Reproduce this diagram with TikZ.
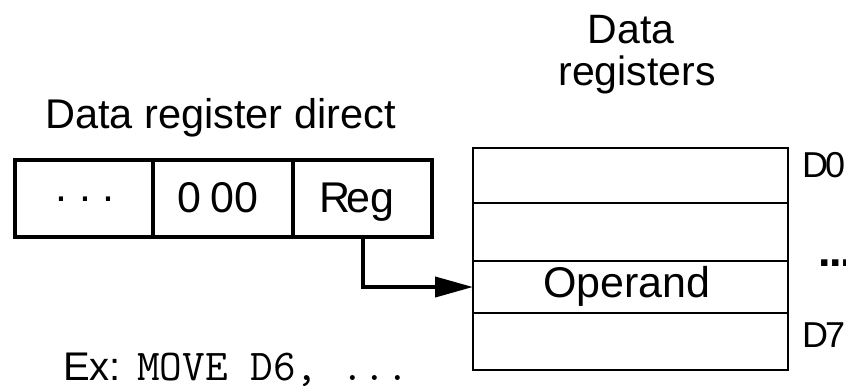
\documentclass[tikz,border=0pt]{standalone}
\usepackage{fontspec}
\setmainfont{Liberation Sans}
\usetikzlibrary{arrows.meta}
\begin{document}
\begin{tikzpicture}[x=1pt,y=-1pt,
  cell/.style={draw, line width=4pt, inner sep=0pt, outer sep=0pt, minimum height=77pt},
  regrow/.style={draw, line width=2pt, inner sep=0pt, outer sep=0pt, minimum width=315pt},
  big/.style={inner sep=0pt, font=\fontsize{43}{45}\selectfont},
  lbl/.style={inner sep=0pt, font=\fontsize{36}{38}\selectfont},
  link/.style={line width=4pt, -{Triangle[length=38pt,width=20pt]}}]
\useasboundingbox (0,0) rectangle (846,386);
% instruction word
\node[cell, minimum width=138pt] (c1) at (84,198.5) {};
\node[cell, minimum width=140pt] (c2) at (223,198.5) {};
\node[cell, minimum width=139pt] (c3) at (362.5,198.5) {};
\node[big, anchor=base] (dots) at (85,201) {.\hspace{12pt}.\hspace{12pt}.};
\node[big, anchor=base] (zeros) at (218,212) {0\hspace{-3pt} 00};
\node[big, anchor=base west] (reg) at (319,212) {R\kern-4pt eg};
\node[big, anchor=base west, font=\fontsize{41.5}{44}\selectfont] (title) at (45,128) {Data register direct};
% data registers
\node[regrow, minimum height=55pt] (r0) at (630.5,175.5) {};
\node[regrow, minimum height=58pt] (r1) at (630.5,232) {};
\node[regrow, minimum height=52pt] (r2) at (630.5,287) {};
\node[regrow, minimum height=57pt] (r3) at (630.5,341.5) {};
\node[big, anchor=base] (operand) at (627,297) {Operand};
\node[big, anchor=base, font=\fontsize{41}{43}\selectfont] (dt1) at (631,43) {Data};
\node[big, anchor=base, font=\fontsize{41}{43}\selectfont] (dt2) at (637,85) {registers};
\node[lbl, anchor=base west] (d0) at (802,177) {D\kern-3pt 0};
\node[lbl, anchor=base west] (d7) at (802,347) {D\kern-3pt 7};
\node[inner sep=0pt, anchor=base west, font=\fontsize{45}{47}\selectfont\bfseries] (more) at (818,266) {.\kern-1.5pt.\kern-1.5pt.};
% example
\node[big, anchor=base west, font=\fontsize{40}{42}\selectfont] (ex) at (63,380) {Ex:};
\node[inner sep=0pt, anchor=base west, font=\fontsize{44}{46}\selectfont\ttfamily] (code) at (137,380) {MOVE D6, ...};
% connector
\draw[link] (c3.south) |- (r2.west);
\end{tikzpicture}
\end{document}
